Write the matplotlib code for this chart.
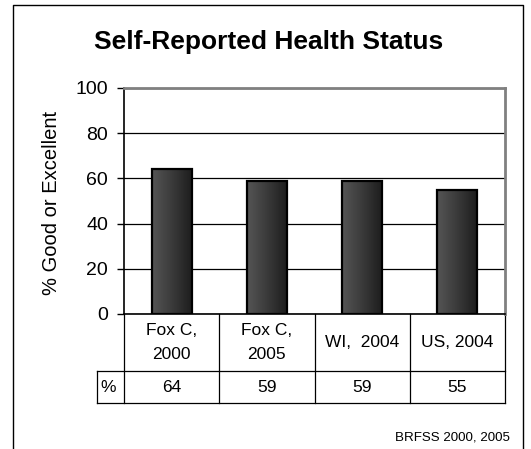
import numpy as np
import matplotlib.pyplot as plt
from matplotlib.lines import Line2D
from matplotlib.colors import LinearSegmentedColormap
from matplotlib.transforms import blended_transform_factory

plt.rcParams['font.family'] = ['Liberation Sans', 'DejaVu Sans']

categories = ['Fox C,\n2000', 'Fox C,\n2005', 'WI,  2004', 'US, 2004']
values = [64, 59, 59, 55]
row_label = '%'
yticks = [0, 20, 40, 60, 80, 100]

fig = plt.figure(figsize=(5.31, 4.49), dpi=100)
ax = fig.add_axes([124 / 531, 1 - 314 / 449, 381 / 531, 226 / 449])

x = np.arange(len(values))
bars = ax.bar(x, values, width=0.42, facecolor='none', edgecolor='black',
              linewidth=1.6, zorder=4)

# dark gradient fill inside each bar
cmap = LinearSegmentedColormap.from_list('bar', ['#555555', '#3a3a3a', '#1c1c1c'])
grad = np.linspace(0, 1, 64).reshape(1, -1)
for b in bars:
    x0, y0 = b.get_x(), b.get_y()
    im = ax.imshow(grad, extent=[x0, x0 + b.get_width(), y0, y0 + b.get_height()],
                   aspect='auto', cmap=cmap, zorder=3)
    im.set_clip_path(b)

ax.set_xlim(-0.5, len(values) - 0.5)
ax.set_ylim(0, 100)
ax.set_yticks(yticks)
ax.tick_params(axis='y', labelsize=14, length=5, width=1, pad=6.5, direction='out')
ax.set_xticks([])
ax.yaxis.grid(True, color='black', linewidth=0.9)
ax.set_axisbelow(True)
for s in ['top', 'right']:
    ax.spines[s].set_color('#808080')
    ax.spines[s].set_linewidth(2)
ax.spines['left'].set_linewidth(1.2)
ax.spines['bottom'].set_linewidth(1.2)

ax.set_ylabel('% Good or Excellent', fontsize=14.5)
ax.yaxis.set_label_coords(-0.165, 0.49)

# data table under the axis, drawn by hand
tr = blended_transform_factory(ax.transData, ax.transAxes)
h1, h2 = -57 / 226, -89 / 226
xl = -27 / 381
lkw = dict(color='black', linewidth=0.9, clip_on=False)
edges = np.arange(len(values) + 1) - 0.5
for e in edges:
    ax.plot([e, e], [0, h2], transform=tr, **lkw)
ax.plot([xl, xl], [h1, h2], transform=ax.transAxes, **lkw)
ax.plot([xl, 1], [h1, h1], transform=ax.transAxes, **lkw)
ax.plot([xl, 1], [h2, h2], transform=ax.transAxes, **lkw)
for xi, cat, v in zip(x, categories, values):
    ax.text(xi, h1 / 2, cat, transform=tr, ha='center', va='center', fontsize=12.5,
            linespacing=1.75)
    ax.text(xi, (h1 + h2) / 2, str(v), transform=tr, ha='center', va='center', fontsize=12.5)
ax.text(xl + 0.01, (h1 + h2) / 2, row_label, transform=ax.transAxes, ha='left',
        va='center', fontsize=12.5)

fig.text(0.505, 1 - 42 / 449, 'Self-Reported Health Status', ha='center', va='center',
         fontsize=19, fontweight='bold')
fig.text(510 / 531, 1 - 437 / 449, 'BRFSS 2000, 2005', ha='right', va='center', fontsize=9.6)

# outer frame (open at bottom)
fx0, fx1, fy = 13 / 531, 523 / 531, 1 - 5 / 449
fig.add_artist(Line2D([fx0, fx0, fx1, fx1], [0, fy, fy, 0], color='black', linewidth=1,
                      transform=fig.transFigure))

fig.savefig('out.png', dpi=100)
